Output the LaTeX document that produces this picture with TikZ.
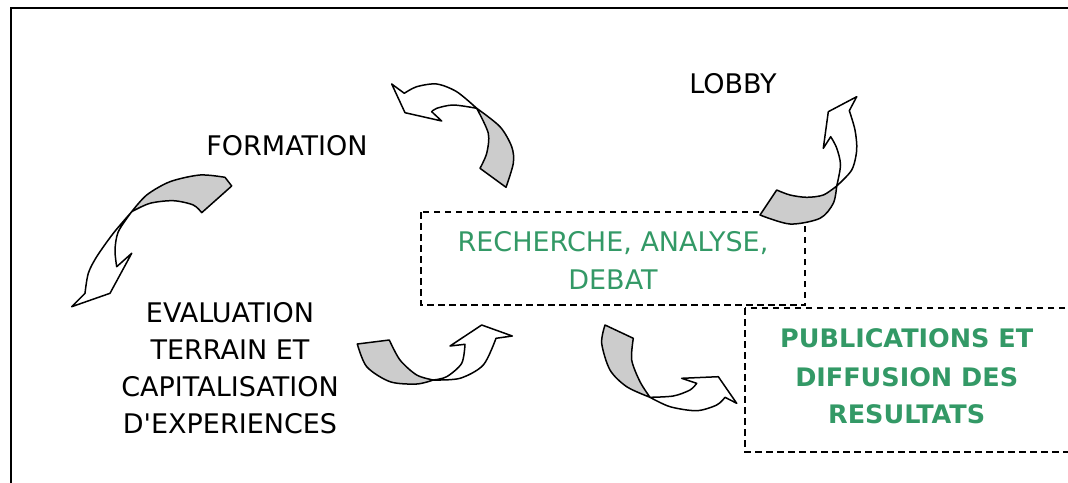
\documentclass[tikz,border=0pt]{standalone}
\usepackage{fontspec}
\setmainfont{DejaVu Sans}[Ligatures=TeXOff]
\definecolor{leafgreen}{HTML}{339966}
\definecolor{ribbon}{HTML}{CCCCCC}

\begin{document}
\begin{tikzpicture}[x=1pt,y=-1pt,
  plaintext/.style={font=\fontsize{27}{37}\selectfont, anchor=base, inner sep=0pt},
  greentext/.style={plaintext, text=leafgreen},
  boldgreentext/.style={font=\fontsize{25.5}{37}\selectfont\bfseries, anchor=base, inner sep=0pt, text=leafgreen},
  dashbox/.style={draw, line width=1.7pt, dash pattern=on 6.5pt off 4.5pt},
  backface/.style={draw, fill=ribbon, line width=1.5pt, line join=round},
  frontface/.style={draw, fill=white, line width=1.5pt, line join=round},
]
\useasboundingbox (0,0) rectangle (1068,482);
\clip (0,0) rectangle (1068,482);

% outer frame (open to the right and bottom)
\draw[line width=2.3pt] (11,495) -- (11,8) -- (1080,8);

% dashed boxes
\draw[dashbox] (421,212) rectangle (805,305);
\draw[dashbox] (745,308) rectangle (1080,452);

% labels
\node[plaintext] (formation) at (287,155.5) {FORMATION};
\node[plaintext] (lobby) at (733,93.5) {LOBBY};
\node[plaintext] (eval1) at (230,322.5) {EVALUATION};
\node[plaintext] (eval2) at (230,359.5) {TERRAIN ET};
\node[plaintext] (eval3) at (230,396.5) {CAPITALISATION};
\node[plaintext] (eval4) at (230,433.5) {D'EXPERIENCES};
\node[greentext] (rech1) at (613,251.7) {RECHERCHE, ANALYSE,};
\node[greentext] (rech2) at (613,289.5) {DEBAT};
\node[boldgreentext] (pub1) at (906.7,347.3) {PUBLICATIONS ET};
\node[boldgreentext] (pub2) at (906.7,386) {DIFFUSION DES};
\node[boldgreentext] (pub3) at (906.7,423.3) {RESULTATS};

% curved arrow above the research box, turning back towards FORMATION
\path[backface] (476.7,108.3)
  -- plot[smooth] coordinates {(476.7,108.3) (500,126.7) (511.7,146.7) (513.3,163.3) (506,187.3)}
  -- (480,168.3)
  -- plot[smooth] coordinates {(480,168.3) (486.7,153.3) (488.3,133.3) (476.7,108.3)}
  -- cycle;
\path[frontface] (391.7,84) -- (404.3,93.3)
  -- plot[smooth] coordinates {(404.3,93.3) (416.7,86.7) (436.7,84) (456.7,91.7) (476.7,108.3)}
  -- plot[smooth] coordinates {(476.7,108.3) (453.3,105) (436.7,108.3) (431.7,111.7)}
  -- (441.7,121) -- (405,112.7) -- cycle;

% curved arrow from FORMATION down to EVALUATION
\path[backface] (131.7,211.7)
  -- plot[smooth] coordinates {(131.7,211.7) (146.7,195) (170,181.7) (200,175) (225,177.3)}
  -- (231.7,186) -- (201.7,212.7)
  -- plot[smooth] coordinates {(201.7,212.7) (193.3,205) (173.3,200.7) (150,203.3) (131.7,211.7)}
  -- cycle;
\path[frontface] (131.7,211.7)
  -- plot[smooth] coordinates {(131.7,211.7) (113.3,233.3) (96.7,256.7) (88.3,273.3) (85,293.3)}
  -- (71.7,306.7) -- (110,293.3) -- (131.7,253.3) -- (116.7,266.7)
  -- plot[smooth] coordinates {(116.7,266.7) (115,250) (118.3,231.7) (131.7,211.7)}
  -- cycle;

% curved arrow rising towards LOBBY
\path[backface] (836.7,186)
  -- plot[smooth] coordinates {(836.7,186) (823.3,195) (806.7,197.3) (790,195) (776.7,190)}
  -- (760,215)
  -- plot[smooth] coordinates {(760,215) (790,224) (820,218.3) (833.3,203.3) (836.7,186)}
  -- cycle;
\path[frontface] (856.7,96.7) -- (849.3,110.7)
  -- plot[smooth] coordinates {(849.3,110.7) (855,130) (856.7,150) (851.7,170) (836.7,186)}
  -- plot[smooth] coordinates {(836.7,186) (840.5,165) (836.7,148) (830.7,136.7)}
  -- (823.3,148.3) -- (828.3,111.7) -- cycle;

% curved arrow from EVALUATION up to the research box
\path[backface] (357.3,344) -- (389.3,340)
  -- plot[smooth] coordinates {(389.3,340) (400,360) (416.7,375) (433.3,380)}
  -- plot[smooth] coordinates {(433.3,380) (416.7,384) (390,381.7) (366.7,366.7) (357.3,344)}
  -- cycle;
\path[frontface] (433.3,380)
  -- plot[smooth] coordinates {(433.3,380) (460,378.3) (483.3,365) (496,338.3)}
  -- (512.3,336) -- (481.7,325) -- (450,346) -- (465,344.3)
  -- plot[smooth] coordinates {(465,344.3) (461.7,363.3) (446.7,376.7) (433.3,380)}
  -- cycle;

% curved arrow from the research box to the publications box
\path[backface] (605,325) -- (633.3,338.3)
  -- plot[smooth] coordinates {(633.3,338.3) (631.7,360) (640,381.7) (650,397.3)}
  -- plot[smooth] coordinates {(650,397.3) (626.7,386.7) (610,370) (601.7,343.3) (605,325)}
  -- cycle;
\path[frontface] (650,397.3)
  -- plot[smooth] coordinates {(650,397.3) (670,406.7) (696.7,410.7) (716.7,405) (725,397.3)}
  -- (736.7,403.3) -- (718.3,376.7) -- (681.7,378.3) -- (696.7,383.3)
  -- plot[smooth] coordinates {(696.7,383.3) (690,390) (673.3,396) (650,397.3)}
  -- cycle;
\end{tikzpicture}
\end{document}
